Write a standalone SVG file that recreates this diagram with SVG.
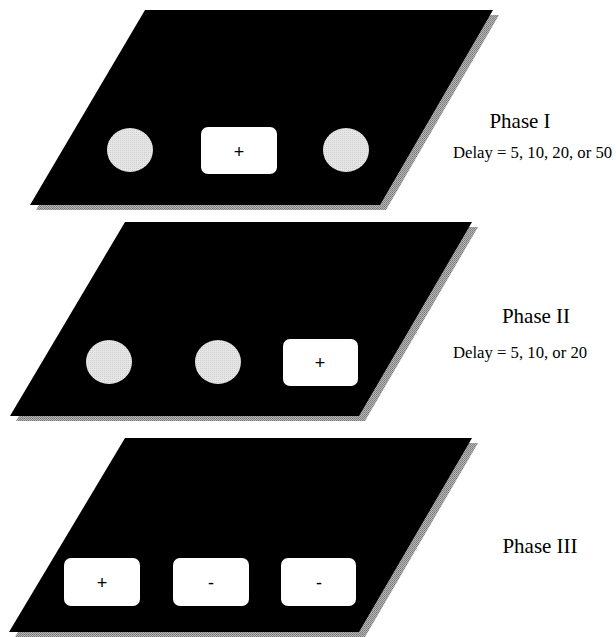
<svg xmlns="http://www.w3.org/2000/svg" width="616" height="637" viewBox="0 0 616 637">
<defs>
<pattern id="dither" width="2" height="2" patternUnits="userSpaceOnUse">
<rect width="2" height="2" fill="#b4b4b4"/>
<rect width="1" height="1" fill="#7a7a7a"/>
<rect x="1" y="1" width="1" height="1" fill="#8a8a8a"/>
</pattern>
<pattern id="dotfill" width="2" height="2" patternUnits="userSpaceOnUse">
<rect width="2" height="2" fill="#e6e6e6"/>
<rect width="1" height="1" fill="#cfcfcf"/>
</pattern>
</defs>
<style>
.shadow{fill:url(#dither)}
.panel{fill:#000}
.dot{fill:url(#dotfill)}
.box{fill:#fff}
.sym{font-family:"Liberation Sans",Arial,sans-serif;font-size:18px;fill:#000;text-anchor:middle}
.phase{font-family:"Liberation Serif","Times New Roman",serif;font-size:21px;fill:#000;text-anchor:middle}
.delay{font-family:"Liberation Serif","Times New Roman",serif;font-size:16.7px;fill:#000}
</style>
<rect width="616" height="637" fill="#fff"/>
<g id="phase1">
<polygon class="shadow" points="151,15 499,15 386,210 36,210"/>
<polygon class="panel" points="145,10 493,10 380,205 30,205"/>
<ellipse class="dot" cx="130" cy="150" rx="23" ry="22"/>
<rect class="box" x="201" y="127" width="76" height="47" rx="7"/>
<text class="sym" x="239" y="158">+</text>
<ellipse class="dot" cx="346" cy="150" rx="23" ry="22"/>
<text class="phase" x="520" y="128">Phase I</text>
<text class="delay" x="453" y="158">Delay = 5, 10, 20, or 50</text>
</g>
<g id="phase2">
<polygon class="shadow" points="131,227 478,227 365,421 16,421"/>
<polygon class="panel" points="125,222 472,222 359,416 10,416"/>
<ellipse class="dot" cx="109" cy="362" rx="23" ry="22"/>
<ellipse class="dot" cx="218" cy="362" rx="23" ry="22"/>
<rect class="box" x="283" y="339" width="75" height="47" rx="7"/>
<text class="sym" x="320" y="369">+</text>
<text class="phase" x="536" y="323">Phase II</text>
<text class="delay" x="453" y="358">Delay = 5, 10, or 20</text>
</g>
<g id="phase3">
<polygon class="shadow" points="131,443 478,443 365,637 15,637"/>
<polygon class="panel" points="125,438 472,438 359,632 9,632"/>
<rect class="box" x="64" y="558" width="76" height="48" rx="7"/>
<text class="sym" x="102" y="589">+</text>
<rect class="box" x="173" y="558" width="76" height="48" rx="7"/>
<text class="sym" x="211" y="589">-</text>
<rect class="box" x="281" y="558" width="75" height="48" rx="7"/>
<text class="sym" x="319" y="589">-</text>
<text class="phase" x="540" y="553">Phase III</text>
</g>
<g id="connectors"/>
</svg>
